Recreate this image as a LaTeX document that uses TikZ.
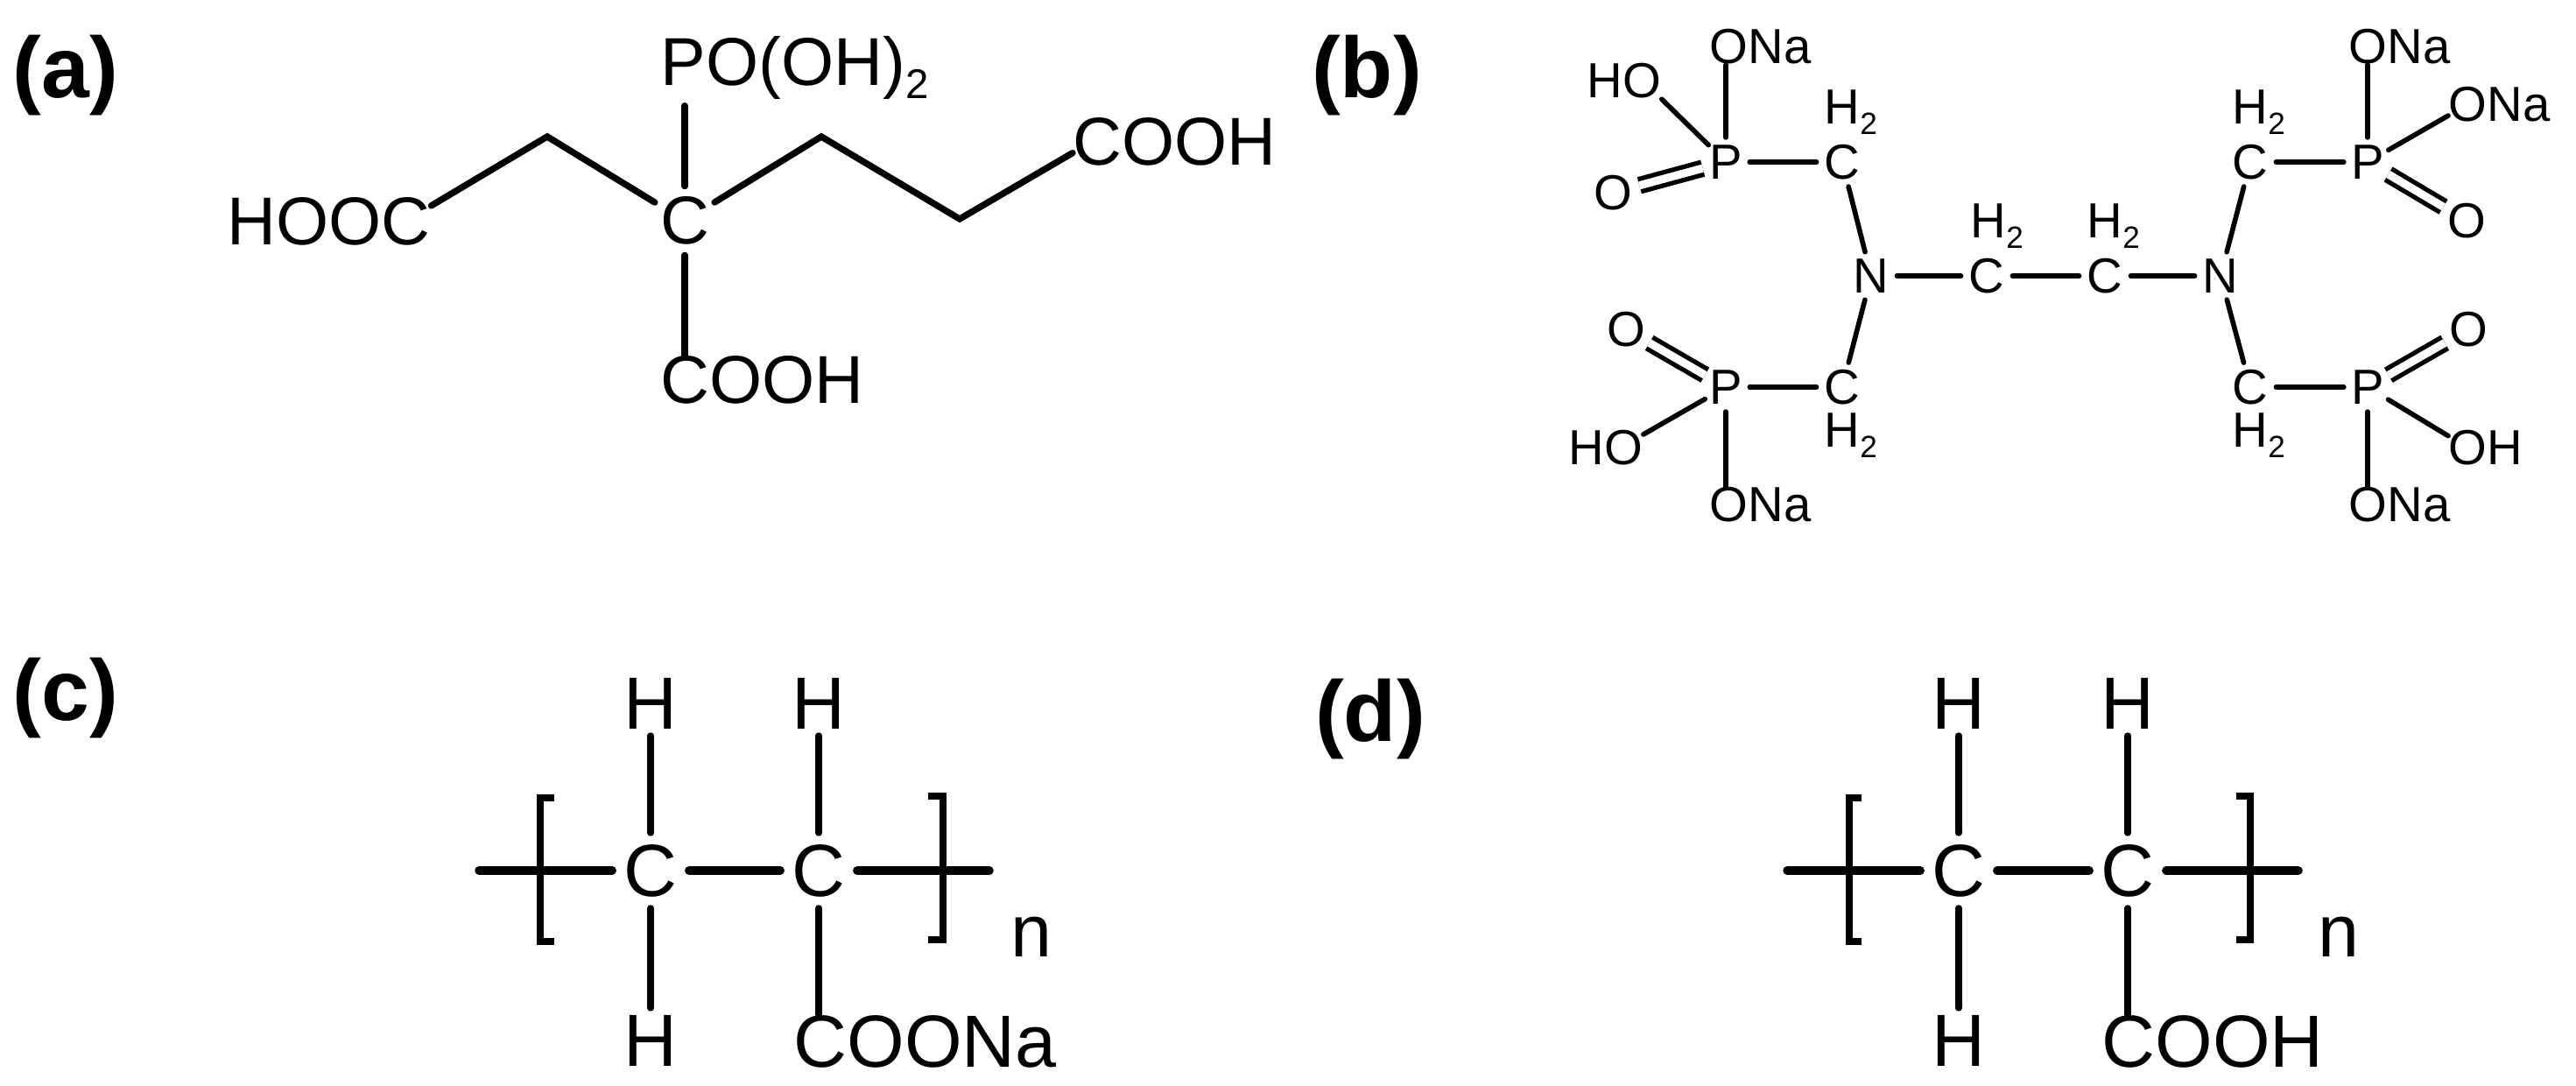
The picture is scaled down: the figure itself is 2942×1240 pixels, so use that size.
\documentclass[tikz,border=0pt]{standalone}
\usepackage{fontspec}
\setmainfont{Liberation Sans}
\usetikzlibrary{shapes.geometric}
\def\fsz#1{\fontsize{#1}{#1}\selectfont}
\def\subtwo[#1](#2){\raisebox{-#2}{\fsz{#1}2}}
\tikzset{
	bond/.style={line width=2.1pt, line cap=round},
	bondbig/.style={line width=2.7pt, line cap=round},
	bondthin/.style={line width=1.6pt, line cap=round},
	bracket/.style={line width=2.4pt},
	dbond/.style={line width=1.5pt, double, double distance=2.6pt},
	tag/.style={inner sep=0, font=\bfseries\fsz{28}},
	txta/.style={inner sep=0, anchor=base west, font=\fsz{22}},
	txtb/.style={inner sep=0, anchor=base west, font=\fsz{16}},
	txtc/.style={inner sep=0, anchor=base west, font=\fsz{24}},
	atoma/.style={ellipse, inner sep=0, minimum width=0.68cm, minimum height=0.76cm, font=\fsz{22}},
	atomb/.style={ellipse, inner sep=0, minimum width=0.44cm, minimum height=0.54cm, font=\fsz{16}},
	atomc/.style={ellipse, inner sep=0, minimum width=0.72cm, minimum height=0.8cm, font=\fsz{24}},
	hyd/.style={inner sep=0, outer sep=0.08cm, font=\fsz{24}}
}
\begin{document}
\begin{tikzpicture}[x=0.01cm, y=-0.01cm]
	\useasboundingbox (0, 0) rectangle (2942, 1240);

	%%%%% (a) %%%%%
	\node[tag] (tagA) at (75, 86) {(a)};
	\node[atoma] (cA) at (782, 252) {C};
	\node[txta] (poA) at (754, 98) {PO(OH)\subtwo[13.5](4.2pt)};
	\node[txta] (hoocA) at (259, 280) {HOOC};
	\node[txta] (coohAr) at (1225, 189) {COOH};
	\node[txta] (coohAb) at (754, 461) {COOH};
	\coordinate (peakAl) at (625, 156);
	\coordinate (peakAr) at (938, 156);
	\coordinate (valleyA) at (1096, 250);

	\draw[bond] (cA) -- ([yshift=-0.06cm]poA.south -| cA);
	\draw[bond] (cA) -- (coohAb.north -| cA);
	\draw[bond] (hoocA.9) -- (peakAl) -- (cA);
	\draw[bond] (cA) -- (peakAr) -- (valleyA) -- (coohAr.186);

	%%%%% (b) %%%%%
	\node[tag] (tagB) at (1561, 86) {(b)};

	\node[atomb] (nBl) at (2137, 315) {N};
	\node[atomb] (nBr) at (2536, 315) {N};
	\node[atomb] (cBm) at (2269, 315) {C};
	\node[atomb] (cBn) at (2404, 315) {C};
	\node[txtb] (hBm) at (2250, 272) {H\subtwo[10](3.2pt)};
	\node[txtb] (hBn) at (2383, 272) {H\subtwo[10](3.2pt)};

	\node[atomb] (cBtl) at (2104, 185) {C};
	\node[atomb] (pBtl) at (1971, 185) {P};
	\node[atomb] (oBtl) at (1842, 220) {O};
	\node[txtb] (hBtl) at (2083, 142) {H\subtwo[10](3.2pt)};
	\node[txtb] (onaBtl) at (1952, 73) {ONa};
	\node[txtb] (hoBtl) at (1812, 112) {HO};

	\node[atomb] (cBtr) at (2570, 185) {C};
	\node[atomb] (pBtr) at (2704, 185) {P};
	\node[atomb] (oBtr) at (2817, 252) {O};
	\node[txtb] (hBtr) at (2549, 142) {H\subtwo[10](3.2pt)};
	\node[txtb] (onaBtr) at (2682, 73) {ONa};
	\node[txtb] (onaBts) at (2796, 139) {ONa};

	\node[atomb] (cBbl) at (2104, 442) {C};
	\node[atomb] (pBbl) at (1971, 442) {P};
	\node[atomb] (oBbl) at (1857, 376) {O};
	\node[txtb] (hBbl) at (2083, 511) {H\subtwo[10](3.2pt)};
	\node[txtb] (onaBbl) at (1952, 596) {ONa};
	\node[txtb] (hoBbl) at (1791, 531) {HO};

	\node[atomb] (cBbr) at (2570, 442) {C};
	\node[atomb] (pBbr) at (2704, 442) {P};
	\node[atomb] (oBbr) at (2819, 376) {O};
	\node[txtb] (hBbr) at (2549, 511) {H\subtwo[10](3.2pt)};
	\node[txtb] (onaBbr) at (2682, 596) {ONa};
	\node[txtb] (ohBbr) at (2796, 531) {OH};

	\draw[bondthin] (nBl) -- (cBm);
	\draw[bondthin] (cBm) -- (cBn);
	\draw[bondthin] (cBn) -- (nBr);
	\draw[bondthin] (nBl) -- (cBtl);
	\draw[bondthin] (nBl) -- (cBbl);
	\draw[bondthin] (nBr) -- (cBtr);
	\draw[bondthin] (nBr) -- (cBbr);

	\draw[bondthin] (cBtl) -- (pBtl);
	\draw[bondthin] (pBtl) -- (onaBtl.south -| pBtl);
	\draw[bondthin] (pBtl) -- (hoBtl.south east);
	\draw[dbond] (pBtl) -- (oBtl);

	\draw[bondthin] (cBtr) -- (pBtr);
	\draw[bondthin] (pBtr) -- (onaBtr.south -| pBtr);
	\draw[bondthin] (pBtr) -- (onaBts.192);
	\draw[dbond] (pBtr) -- (oBtr);

	\draw[bondthin] (cBbl) -- (pBbl);
	\draw[bondthin] (pBbl) -- (onaBbl.north -| pBbl);
	\draw[bondthin] (pBbl) -- (hoBbl.20);
	\draw[dbond] (pBbl) -- (oBbl);

	\draw[bondthin] (cBbr) -- (pBbr);
	\draw[bondthin] (pBbr) -- (onaBbr.north -| pBbr);
	\draw[bondthin] (pBbr) -- (ohBbr.162);
	\draw[dbond] (pBbr) -- (oBbr);

	%%%%% (c) %%%%%
	\node[tag] (tagC) at (75, 797) {(c)};
	\node[atomc] (cCa) at (743, 994) {C};
	\node[atomc] (cCb) at (935, 994) {C};
	\node[hyd] (hCat) at (743, 803) {H};
	\node[hyd] (hCbt) at (935, 803) {H};
	\node[hyd] (hCab) at (743, 1188) {H};
	\node[txtc] (coonaC) at (906, 1218) {COONa};
	\node[txtc] (nC) at (1154, 1092) {n};
	\coordinate (tailCl) at (547, 994);
	\coordinate (tailCr) at (1130, 994);

	\draw[bondbig] (tailCl) -- (cCa);
	\draw[bondbig] (cCa) -- (cCb);
	\draw[bondbig] (cCb) -- (tailCr);
	\draw[bond] (hCat) -- (cCa);
	\draw[bond] (hCbt) -- (cCb);
	\draw[bond] (cCa) -- (hCab);
	\draw[bond] (cCb) -- (coonaC.north -| cCb);
	\draw[bracket] (633, 911) -- (617, 911) -- (617, 1075) -- (633, 1075);
	\draw[bracket] (1060, 909) -- (1077, 909) -- (1077, 1073) -- (1060, 1073);

	%%%%% (d) %%%%%
	\node[tag] (tagD) at (1565, 821) {(d)};
	\node[atomc] (cDa) at (2237, 994) {C};
	\node[atomc] (cDb) at (2430, 994) {C};
	\node[hyd] (hDat) at (2237, 803) {H};
	\node[hyd] (hDbt) at (2430, 803) {H};
	\node[hyd] (hDab) at (2237, 1188) {H};
	\node[txtc] (coohD) at (2400, 1218) {COOH};
	\node[txtc] (nD) at (2647, 1092) {n};
	\coordinate (tailDl) at (2041, 994);
	\coordinate (tailDr) at (2625, 994);

	\draw[bondbig] (tailDl) -- (cDa);
	\draw[bondbig] (cDa) -- (cDb);
	\draw[bondbig] (cDb) -- (tailDr);
	\draw[bond] (hDat) -- (cDa);
	\draw[bond] (hDbt) -- (cDb);
	\draw[bond] (cDa) -- (hDab);
	\draw[bond] (cDb) -- (coohD.north -| cDb);
	\draw[bracket] (2126, 911) -- (2112, 911) -- (2112, 1075) -- (2126, 1075);
	\draw[bracket] (2554, 909) -- (2570, 909) -- (2570, 1073) -- (2554, 1073);
\end{tikzpicture}
\end{document}
